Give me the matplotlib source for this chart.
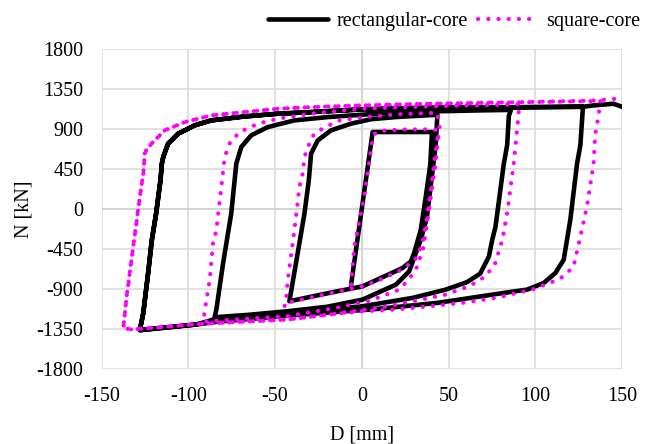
import matplotlib
matplotlib.use("Agg")
import matplotlib.pyplot as plt

plt.rcParams["font.family"] = ["Liberation Serif", "DejaVu Serif"]
plt.rcParams["axes.unicode_minus"] = False

# Axial force N [kN] vs. displacement D [mm], rectangular-core specimen
rect_D = [-6.2, 0.0, 6.3, 22.0, 40.5,
          39.5, 36.9, 34.0, 30.2, 28.3, 23.5, 0.5, -18.7, -41.7,
          -37.9, -33.0, -30.5, -29.2, -25.3, -17.7, -6.2, 5.3, 20.0, 43.6,
          42.6, 40.0, 37.5, 34.0, 31.2, 27.3, 19.7, 0.5, -20.0, -42.6, -65.0, -84.8,
          -83.8, -79.9, -75.2, -72.3, -69.4, -63.7, -54.1, -38.8, -19.6, -0.5, 20.0, 45.0, 70.0, 86.0,
          84.8, 83.8, 81.9, 77.1, 75.2, 73.3, 71.4, 68.2, 60.6, 48.4, 29.3, 0.5, -42.6, -84.0, -95.3, -127.9,
          -125.9, -123.0, -121.0, -118.5, -116.0, -115.2, -114.4, -111.6, -105.8, -96.3, -86.7, -67.5,
          -48.3, -29.2, -0.5, 30.0, 60.0, 91.0, 127.5,
          126.0, 124.1, 120.2, 116.4, 111.6, 104.9, 95.3, 81.9, 62.8, 43.6, 24.4, 5.3, -20.0, -42.6,
          -84.0, -95.3, -127.9,
          -125.9, -123.0, -121.0, -118.5, -116.0, -115.2, -114.4, -111.6, -105.8, -96.3, -86.7, -67.5,
          -48.3, -29.2, -0.5, 30.0, 60.0, 91.0, 127.5, 133.6, 145.0, 150.7, 153.0]
rect_N = [-860, 0, 866, 866, 866,
          500, 138, -235, -496, -590, -664, -870, -944, -1038,
          -608, -48, 325, 624, 773, 885, 960, 1010, 1035, 1060,
          717, 300, -100, -347, -496, -702, -851, -1019, -1100, -1150, -1190, -1218,
          -1131, -608, -48, 512, 698, 829, 922, 997, 1034, 1060, 1085, 1100, 1110, 1115,
          1050, 717, 512, -198, -347, -534, -608, -728, -823, -907, -1000, -1094, -1170, -1235, -1299, -1363,
          -1168, -700, -350, -48, 325, 512, 586, 736, 848, 941, 997, 1041,
          1072, 1090, 1120, 1135, 1142, 1145, 1150,
          717, 512, -123, -571, -720, -832, -907, -944, -1000, -1056, -1094, -1131, -1165, -1200,
          -1270, -1299, -1363,
          -1168, -700, -350, -48, 325, 512, 586, 736, 848, 941, 997, 1041,
          1072, 1090, 1120, 1135, 1142, 1145, 1150, 1165, 1184, 1146, 1110]

# Axial force N [kN] vs. displacement D [mm], square-core specimen
sq_D = [-6.2, -4.3, 1.4, 6.3, 8.0, 14.0, 25.0, 38.0, 43.0,
        44.0, 41.0, 38.0, 35.0, 31.0, 28.0, 23.5, 10.0, 0.5, -18.7, -42.0, -44.5,
        -43.5, -42.6, -38.8, -35.9, -34.0, -33.0, -31.0, -27.7, -22.0, -12.4, 5.3, 20.0, 43.3,
        45.0, 44.2, 42.3, 38.5, 35.6, 31.8, 26.9, 20.3, 4.9, -14.8, -42.6, -70.0, -91.4,
        -89.5, -87.6, -85.7, -83.8, -80.9, -79.0, -76.2, -70.4, -59.8, -48.3, -29.2, -0.5,
        30.0, 60.0, 91.1,
        90.5, 89.6, 87.6, 83.8, 81.0, 77.0, 71.4, 61.8, 48.4, 29.3, 10.0, -18.7, -42.6, -91.4,
        -132.6, -137.4,
        -136.5, -135.5, -133.6, -131.7, -127.9, -125.9, -125.0, -121.2, -113.5, -102.0, -86.7,
        -67.5, -48.3, -29.2, -0.5, 37.9, 91.4, 137.5,
        136.5, 134.5, 133.6, 129.8, 126.0, 122.1, 116.4, 110.6, 98.2, 77.0, 58.0, 38.8, 19.7,
        0.5, -18.7, -42.6, -91.4, -132.6, -137.4,
        -136.5, -135.5, -133.6, -131.7, -127.9, -125.9, -125.0, -121.2, -113.5, -102.0, -86.7,
        -67.5, -48.3, -29.2, -0.5, 37.9, 91.4, 133.6, 150.7, 153.0]
sq_N = [-850, -422, 138, 800, 860, 885, 895, 895, 890,
        848, 400, -48, -384, -560, -610, -680, -800, -870, -950, -1050, -1100,
        -1000, -795, -235, 250, 400, 586, 700, 837, 913, 1000, 1040, 1065, 1083,
        950, 818, 479, -49, -427, -653, -804, -917, -1030, -1112, -1205, -1240, -1265,
        -1019, -795, -384, -235, 250, 586, 736, 866, 960, 1016, 1072, 1128,
        1150, 1165, 1178,
        1100, 904, 512, -48, -347, -608, -758, -870, -963, -1038, -1112, -1187, -1243, -1290,
        -1355, -1340,
        -1168, -982, -700, -422, 138, 400, 640, 736, 885, 978, 1053,
        1090, 1128, 1146, 1165, 1183, 1200, 1215,
        1053, 829, 512, 26, -310, -646, -758, -814, -907, -1000, -1056, -1094, -1131,
        -1150, -1187, -1243, -1290, -1355, -1340,
        -1168, -982, -700, -422, 138, 400, 640, 736, 885, 978, 1053,
        1090, 1128, 1146, 1165, 1183, 1202, 1220, 1246, 1250]

x_ticks = [-150, -100, -50, 0, 50, 100, 150]
y_ticks = [-1800, -1350, -900, -450, 0, 450, 900, 1350, 1800]

fig = plt.figure(figsize=(6.49, 4.44), dpi=100)
ax = fig.add_axes([101.5 / 649, 1 - 369 / 444, (622 - 101.5) / 649, (369 - 49) / 444])

grid_c = "#d9d9d9"
for v in x_ticks:
    ax.axvline(v, color="#c8c8c8" if v == 0 else grid_c, lw=1.1, zorder=0)
for v in y_ticks:
    ax.axhline(v, color="#c8c8c8" if v == 0 else grid_c, lw=1.1, zorder=0)

ax.plot(rect_D, rect_N, color="black", lw=3.3, solid_joinstyle="round",
        solid_capstyle="round", label="rectangular-core", zorder=2)
ax.plot(sq_D, sq_N, color="#ff00ff", lw=3.0, linestyle=(0, (0.05, 2.4)),
        dash_capstyle="round", label="square-core", zorder=3)

ax.set_xlim(-150, 150)
ax.set_ylim(-1800, 1800)
ax.set_xticks(x_ticks)
ax.set_yticks(y_ticks)
ax.set_xticklabels([str(v) for v in x_ticks])
ax.set_yticklabels([str(v) for v in y_ticks])
ax.tick_params(length=0, labelsize=14.5, pad=13)
for s in ax.spines.values():
    s.set_visible(False)

ax.set_xlabel("D [mm]", fontsize=14.5, labelpad=14)
ax.set_ylabel("N [kN]", fontsize=14.5, labelpad=2)

fig.legend(loc="upper right", bbox_to_anchor=(1.005, 1.0), ncol=2, frameon=False,
           fontsize=14.5, handlelength=3.0, handletextpad=0.4, columnspacing=0.5,
           borderaxespad=0.2)

fig.savefig("out.png", dpi=100)
